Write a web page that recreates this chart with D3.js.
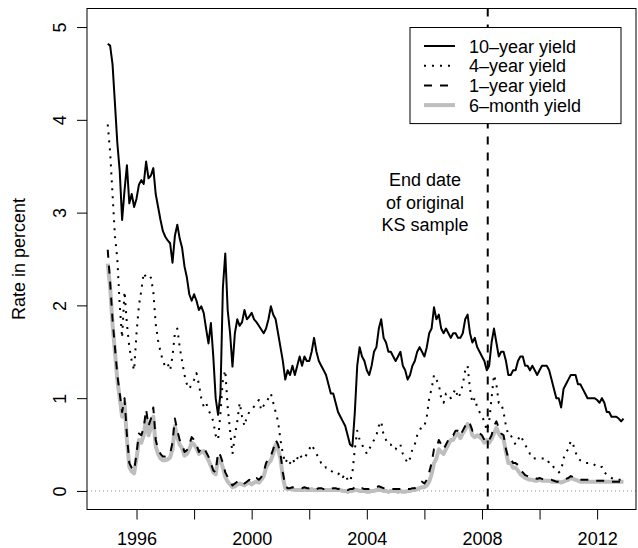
<!DOCTYPE html>
<html>
<head>
<meta charset="utf-8">
<script src="https://cdn.jsdelivr.net/npm/d3@7"></script>
<style>
  html, body { margin: 0; padding: 0; background: #fff; }
  svg { display: block; }
  text { font-family: "Liberation Sans", Arial, Helvetica, sans-serif; fill: #000; }
</style>
</head>
<body>
<svg id="chart" width="638" height="548"></svg>
<script>
// Monthly yields, January 1995 to December 2012 (one row per year).
const startYear = 1995;

const tenYear = [
  4.82,4.80,4.60,4.18,3.75,3.45,2.92,3.24,3.51,3.10,3.20,3.06,
  3.15,3.30,3.35,3.31,3.55,3.37,3.40,3.48,3.20,3.06,2.92,2.80,
  2.74,2.70,2.67,2.46,2.75,2.87,2.72,2.62,2.42,2.30,2.12,2.05,
  2.12,2.05,1.95,1.99,1.92,1.75,1.59,1.81,1.45,1.00,0.82,1.05,
  2.19,2.56,1.95,1.70,1.34,1.70,1.85,1.78,1.82,1.95,1.85,1.88,
  1.92,1.85,1.82,1.78,1.74,1.70,1.75,1.85,1.99,1.90,1.85,1.70,
  1.55,1.40,1.20,1.30,1.25,1.35,1.25,1.35,1.45,1.35,1.45,1.40,
  1.40,1.50,1.65,1.50,1.40,1.35,1.30,1.25,1.15,1.05,1.05,0.95,
  0.85,0.80,0.75,0.70,0.60,0.50,0.48,0.85,1.35,1.55,1.45,1.40,
  1.30,1.25,1.35,1.50,1.55,1.75,1.85,1.65,1.60,1.50,1.50,1.45,
  1.40,1.45,1.50,1.35,1.30,1.20,1.25,1.35,1.40,1.50,1.55,1.50,
  1.45,1.55,1.70,1.75,1.98,1.85,1.90,1.75,1.70,1.75,1.70,1.65,
  1.70,1.70,1.65,1.65,1.70,1.85,1.90,1.70,1.60,1.65,1.55,1.50,
  1.45,1.40,1.30,1.35,1.60,1.75,1.60,1.45,1.50,1.50,1.40,1.25,
  1.25,1.30,1.30,1.40,1.45,1.45,1.35,1.35,1.30,1.35,1.30,1.25,
  1.30,1.35,1.35,1.35,1.30,1.20,1.10,1.00,1.00,0.90,1.10,1.15,
  1.20,1.25,1.25,1.25,1.15,1.15,1.10,1.05,1.00,1.00,1.00,1.00,
  0.98,0.95,1.00,0.95,0.85,0.85,0.80,0.80,0.80,0.78,0.75,0.78
];

const fourYear = [
  3.95,3.65,3.20,2.75,2.50,2.00,1.65,2.15,1.80,1.55,1.40,1.30,
  1.70,2.00,2.16,2.35,2.30,2.28,2.30,2.15,1.80,1.62,1.50,1.40,
  1.34,1.37,1.30,1.45,1.70,1.75,1.55,1.40,1.25,1.15,1.10,1.15,
  1.20,1.27,1.15,1.00,0.91,0.95,0.87,0.82,0.75,0.60,0.55,0.84,
  1.20,1.30,0.90,0.65,0.40,0.60,0.75,0.95,0.80,0.70,0.80,0.85,
  0.88,0.91,0.95,0.98,0.87,0.92,0.95,1.00,1.05,0.95,0.85,0.75,
  0.55,0.40,0.30,0.35,0.30,0.35,0.30,0.35,0.40,0.35,0.35,0.40,
  0.45,0.50,0.45,0.40,0.35,0.30,0.30,0.25,0.25,0.22,0.20,0.20,
  0.18,0.20,0.15,0.18,0.12,0.10,0.20,0.45,0.65,0.55,0.50,0.45,
  0.40,0.45,0.50,0.55,0.60,0.70,0.75,0.60,0.55,0.50,0.50,0.45,
  0.45,0.50,0.50,0.40,0.35,0.30,0.35,0.45,0.50,0.60,0.65,0.70,
  0.70,0.80,1.00,1.10,1.25,1.20,1.15,1.00,0.95,1.05,1.05,1.00,
  1.05,1.10,1.00,1.05,1.15,1.30,1.35,1.10,0.95,1.00,0.90,0.85,
  0.80,0.75,0.65,0.75,1.00,1.25,1.15,0.95,0.95,0.85,0.70,0.60,
  0.60,0.55,0.50,0.55,0.60,0.55,0.50,0.45,0.40,0.40,0.35,0.35,
  0.35,0.35,0.35,0.35,0.30,0.30,0.25,0.22,0.20,0.22,0.35,0.42,
  0.45,0.54,0.50,0.42,0.35,0.33,0.32,0.30,0.30,0.30,0.30,0.28,
  0.26,0.25,0.26,0.20,0.18,0.16,0.14,0.13,0.12,0.12,0.12,0.12
];

const oneYear = [
  2.60,2.25,1.85,1.55,1.25,1.05,0.85,1.00,0.60,0.30,0.25,0.22,
  0.40,0.62,0.60,0.68,0.88,0.70,0.78,0.90,0.55,0.45,0.40,0.37,
  0.37,0.38,0.40,0.52,0.78,0.65,0.55,0.50,0.42,0.44,0.50,0.58,
  0.55,0.50,0.42,0.46,0.47,0.42,0.37,0.30,0.22,0.20,0.42,0.38,
  0.30,0.20,0.15,0.10,0.06,0.08,0.10,0.12,0.10,0.08,0.10,0.12,
  0.10,0.12,0.14,0.12,0.15,0.20,0.30,0.35,0.38,0.45,0.55,0.50,
  0.40,0.20,0.05,0.03,0.03,0.04,0.03,0.03,0.03,0.03,0.04,0.03,
  0.03,0.04,0.03,0.02,0.03,0.03,0.02,0.03,0.03,0.02,0.03,0.03,
  0.02,0.03,0.02,0.02,0.01,0.02,0.02,0.04,0.05,0.03,0.03,0.02,
  0.02,0.02,0.03,0.03,0.04,0.05,0.04,0.03,0.03,0.02,0.02,0.02,
  0.02,0.02,0.02,0.01,0.01,0.02,0.02,0.03,0.03,0.05,0.07,0.10,
  0.08,0.12,0.20,0.30,0.45,0.45,0.55,0.50,0.45,0.50,0.55,0.60,
  0.60,0.65,0.65,0.60,0.65,0.70,0.75,0.72,0.65,0.65,0.65,0.62,
  0.60,0.55,0.58,0.55,0.60,0.70,0.75,0.68,0.62,0.60,0.45,0.35,
  0.35,0.30,0.30,0.28,0.22,0.20,0.17,0.16,0.15,0.15,0.14,0.13,
  0.14,0.13,0.12,0.12,0.12,0.12,0.11,0.10,0.10,0.10,0.12,0.13,
  0.14,0.16,0.15,0.14,0.13,0.12,0.12,0.12,0.12,0.12,0.11,0.11,
  0.11,0.11,0.11,0.11,0.10,0.10,0.10,0.10,0.10,0.10,0.10,0.10
];

const sixMonth = [
  2.45,2.20,1.80,1.50,1.20,1.00,0.80,0.95,0.55,0.26,0.21,0.19,
  0.35,0.55,0.52,0.60,0.78,0.60,0.68,0.80,0.48,0.40,0.35,0.33,
  0.33,0.34,0.36,0.45,0.70,0.58,0.50,0.46,0.38,0.40,0.45,0.52,
  0.50,0.46,0.40,0.42,0.43,0.38,0.33,0.27,0.20,0.18,0.35,0.33,
  0.25,0.15,0.10,0.07,0.04,0.05,0.07,0.08,0.07,0.06,0.08,0.09,
  0.07,0.09,0.10,0.09,0.12,0.16,0.25,0.30,0.33,0.40,0.50,0.45,
  0.35,0.15,0.03,0.02,0.02,0.02,0.01,0.01,0.01,0.01,0.02,0.01,
  0.01,0.02,0.01,0.01,0.01,0.01,0.01,0.01,0.01,0.01,0.01,0.01,
  0.01,0.01,0.00,0.00,-0.01,0.00,0.00,0.01,0.01,0.00,0.00,0.00,
  -0.01,-0.01,0.00,0.00,0.01,0.01,0.01,0.00,0.00,-0.01,0.00,0.00,
  0.00,-0.01,0.00,-0.01,-0.01,0.00,0.00,0.01,0.01,0.02,0.03,0.04,
  0.04,0.06,0.10,0.18,0.30,0.35,0.45,0.42,0.40,0.45,0.50,0.55,
  0.55,0.60,0.62,0.57,0.62,0.66,0.72,0.70,0.60,0.58,0.60,0.58,
  0.56,0.52,0.55,0.52,0.56,0.62,0.68,0.62,0.58,0.56,0.42,0.30,
  0.30,0.25,0.25,0.22,0.18,0.16,0.14,0.13,0.12,0.12,0.11,0.11,
  0.12,0.11,0.11,0.11,0.11,0.10,0.10,0.10,0.10,0.09,0.10,0.11,
  0.12,0.14,0.13,0.12,0.11,0.10,0.10,0.10,0.10,0.10,0.10,0.10,
  0.10,0.10,0.10,0.10,0.10,0.10,0.10,0.10,0.10,0.10,0.10,0.10
];

const seriesLabels = ["10\u2013year yield", "4\u2013year yield", "1\u2013year yield", "6\u2013month yield"];
const yTicks = [0, 1, 2, 3, 4, 5];
const xTicks = [1996, 1998, 2000, 2002, 2004, 2006, 2008, 2010, 2012];
const xLabelled = [1996, 2000, 2004, 2008, 2012];
const sampleEnd = 2008.2;
const noteLines = ["End date", "of original", "KS sample"];
const yTitle = "Rate in percent";

// ---- layout ----
const plot = { left: 87, right: 636, top: 8.5, bottom: 509.5 };
const fontSize = 18;

const svg = d3.select("#chart");

const dates = tenYear.map((_, i) => startYear + i / 12);

const x = d3.scaleLinear().domain([1994.28, 2013.35]).range([plot.left, plot.right]);
const y = d3.scaleLinear().domain([-0.2, 5.2]).range([plot.bottom, plot.top]);

svg.append("defs").append("clipPath").attr("id", "plotclip")
  .append("rect")
  .attr("x", plot.left).attr("y", plot.top)
  .attr("width", plot.right - plot.left).attr("height", plot.bottom - plot.top);

const g = svg.append("g").attr("clip-path", "url(#plotclip)");

// zero reference line
g.append("line")
  .attr("x1", plot.left).attr("x2", plot.right)
  .attr("y1", y(0)).attr("y2", y(0))
  .attr("stroke", "#888").attr("stroke-width", 1)
  .attr("stroke-dasharray", "1,3");

const line = d3.line().x((d, i) => x(dates[i])).y(d => y(d));

// line styles: solid, dotted (2 on / 6 off), dashed (8 on / 8 off), thick grey
const styles = [
  { data: sixMonth, stroke: "#bebebe", width: 4, dash: null },
  { data: tenYear, stroke: "#000", width: 2, dash: null },
  { data: fourYear, stroke: "#000", width: 2, dash: "2,6" },
  { data: oneYear, stroke: "#000", width: 2, dash: "8,8" }
];

styles.forEach(s => {
  g.append("path")
    .attr("d", line(s.data))
    .attr("fill", "none")
    .attr("stroke", s.stroke)
    .attr("stroke-width", s.width)
    .attr("stroke-linejoin", "round")
    .attr("stroke-linecap", "butt")
    .attr("stroke-dasharray", s.dash);
});

// end of original sample
g.append("line")
  .attr("x1", x(sampleEnd)).attr("x2", x(sampleEnd))
  .attr("y1", plot.top).attr("y2", plot.bottom)
  .attr("stroke", "#000").attr("stroke-width", 2)
  .attr("stroke-dasharray", "8,8");

// plot frame
svg.append("rect")
  .attr("x", plot.left).attr("y", plot.top)
  .attr("width", plot.right - plot.left).attr("height", plot.bottom - plot.top)
  .attr("fill", "none").attr("stroke", "#000").attr("stroke-width", 1);

// axes
const yAxis = d3.axisLeft(y).tickValues(yTicks).tickSize(10).tickSizeOuter(0).tickFormat(d3.format("d"));
const ya = svg.append("g").attr("transform", `translate(${plot.left},0)`).call(yAxis);
ya.select(".domain").remove();
ya.selectAll(".tick line").attr("stroke", "#000");
ya.selectAll(".tick text")
  .attr("font-size", fontSize)
  .attr("font-family", '"Liberation Sans", Arial, sans-serif')
  .attr("fill", "#000")
  .attr("x", null).attr("dy", null)
  .attr("text-anchor", "middle")
  .attr("transform", "translate(-21,0) rotate(-90)");

const xAxis = d3.axisBottom(x).tickValues(xTicks).tickSize(10).tickSizeOuter(0)
  .tickFormat(d => xLabelled.includes(d) ? String(d) : "");
const xa = svg.append("g").attr("transform", `translate(0,${plot.bottom})`).call(xAxis);
xa.select(".domain").remove();
xa.selectAll(".tick line").attr("stroke", "#000");
xa.selectAll(".tick text")
  .attr("font-size", fontSize)
  .attr("font-family", '"Liberation Sans", Arial, sans-serif')
  .attr("fill", "#000")
  .attr("y", 35).attr("dy", null);

// y axis title
svg.append("text")
  .attr("transform", `translate(25,${(plot.top + plot.bottom) / 2}) rotate(-90)`)
  .attr("text-anchor", "middle")
  .attr("font-size", fontSize)
  .text(yTitle);

// annotation next to the sample-end marker
svg.append("text")
  .attr("text-anchor", "middle")
  .attr("font-size", fontSize)
  .selectAll("tspan").data(noteLines).join("tspan")
  .attr("x", 425)
  .attr("y", (d, i) => 186 + i * 22.5)
  .text(d => d);

// legend
const lg = { left: 410, right: 621, top: 27.5, rowGap: 19.7, first: 46 };
svg.append("rect")
  .attr("x", lg.left).attr("y", lg.top)
  .attr("width", lg.right - lg.left)
  .attr("height", (lg.first - lg.top) * 2 + lg.rowGap * 3)
  .attr("fill", "#fff").attr("stroke", "#000").attr("stroke-width", 1);

const legendStyles = [styles[1], styles[2], styles[3], styles[0]];
seriesLabels.forEach((lab, i) => {
  const s = legendStyles[i];
  const cy = lg.first + i * lg.rowGap;
  svg.append("line")
    .attr("x1", 424).attr("x2", 455)
    .attr("y1", cy).attr("y2", cy)
    .attr("stroke", s.stroke).attr("stroke-width", s.width)
    .attr("stroke-linecap", "butt")
    .attr("stroke-dasharray", s.dash);
  svg.append("text")
    .attr("x", 469).attr("y", cy + 6.5)
    .attr("font-size", fontSize)
    .text(lab);
});
</script>
</body>
</html>
